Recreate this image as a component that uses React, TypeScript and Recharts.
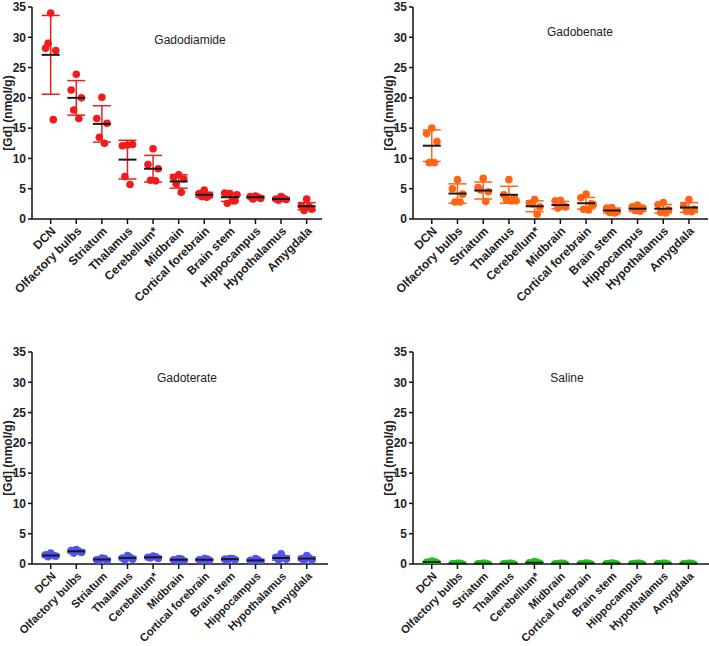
import { ScatterChart, Scatter, XAxis, YAxis, ErrorBar } from 'recharts';

const regions = [
  'DCN', 'Olfactory bulbs', 'Striatum', 'Thalamus', 'Cerebellum*', 'Midbrain',
  'Cortical forebrain', 'Brain stem', 'Hippocampus', 'Hypothalamus', 'Amygdala',
];
const yTicks = [0, 5, 10, 15, 20, 25, 30, 35];

// individual animals per region
const gadodiamidePoints = [
  [34, 28.2, 27.8, 29, 16.4], [23.9, 21.3, 20, 18, 16.6], [20.1, 16.6, 15.8, 13.5, 12.5],
  [12.2, 12.1, 12.3, 7.0, 5.7], [11.6, 9.0, 8.3, 6.4, 6.3], [7.3, 6.9, 6.6, 5.8, 4.4],
  [4.8, 4.2, 3.9, 3.7, 3.6], [4.2, 4.3, 3.0, 2.6, 3.0, 4.0], [3.8, 3.7, 3.4, 3.3, 3.6],
  [3.7, 3.3, 3.2, 3.1, 3.4], [3.3, 2.2, 1.6, 1.4, 2.0],
];
const gadodiamideMean = [27.1, 20, 15.7, 9.8, 8.3, 6.2, 4.0, 3.6, 3.6, 3.3, 2.1];
const gadodiamideSd = [6.5, 2.85, 3.0, 3.2, 2.2, 1.1, 0.4, 0.7, 0.2, 0.2, 0.6];

const gadobenatePoints = [
  [15.0, 14.1, 12.8, 9.3, 9.3], [6.5, 5.0, 4.1, 2.8, 2.8], [6.7, 5.2, 4.5, 4.8, 2.9],
  [6.5, 4.0, 3.5, 3.2, 3.0, 3.0], [3.2, 2.6, 2.0, 2.5, 0.8], [3.1, 3.0, 2.0, 1.8, 2.2],
  [4.1, 3.5, 2.5, 1.6, 1.5, 2.4], [1.9, 1.8, 1.2, 1.1, 1.0], [2.3, 2.0, 1.8, 1.4, 1.3],
  [2.7, 2.4, 1.5, 1.1, 1.0], [3.2, 2.2, 1.6, 1.3, 1.2],
];
const gadobenateMean = [12.1, 4.2, 4.7, 4.0, 2.1, 2.3, 2.6, 1.4, 1.7, 1.7, 1.9];
const gadobenateSd = [2.6, 1.6, 1.4, 1.4, 0.9, 0.6, 0.95, 0.4, 0.4, 0.7, 0.8];

const gadoteratePoints = [
  [1.8, 1.5, 1.3, 1.2, 1.4], [2.4, 2.2, 1.9, 1.8, 2.1], [1.0, 0.7, 0.5, 0.6, 0.9],
  [1.4, 1.0, 0.8, 0.7, 1.1], [1.3, 1.1, 0.9, 1.0, 1.2], [0.9, 0.7, 0.5, 0.6, 0.8],
  [0.9, 0.7, 0.6, 0.5, 0.8], [0.9, 0.8, 0.7, 0.6, 0.9], [0.9, 0.6, 0.3, 0.4, 0.7],
  [1.7, 1.1, 0.8, 0.7, 1.0], [1.4, 0.9, 0.7, 0.6, 1.0],
];
const gadoterateMean = [1.4, 2.1, 0.75, 1.0, 1.1, 0.7, 0.7, 0.8, 0.6, 1.0, 0.9];
const gadoterateSd = [0.25, 0.25, 0.2, 0.25, 0.15, 0.15, 0.15, 0.12, 0.2, 0.35, 0.3];

const salinePoints = [
  [0.5, 0.3, 0.2, 0.3, 0.4], [0.1, 0.05, 0.0, 0.05, 0.1], [0.1, 0.05, 0.0, 0.05, 0.1],
  [0.1, 0.05, 0.0, 0.05, 0.1], [0.4, 0.2, 0.1, 0.2, 0.3], [0.1, 0.05, 0.0, 0.05, 0.1],
  [0.15, 0.05, 0.0, 0.05, 0.1], [0.15, 0.05, 0.0, 0.05, 0.1], [0.1, 0.05, 0.0, 0.05, 0.1],
  [0.1, 0.05, 0.0, 0.05, 0.1], [0.1, 0.05, 0.0, 0.05, 0.1],
];
const salineMean = [0.3, 0.05, 0.05, 0.05, 0.2, 0.05, 0.07, 0.07, 0.05, 0.05, 0.05];
const salineSd = [0.1, 0.04, 0.04, 0.04, 0.1, 0.04, 0.05, 0.05, 0.04, 0.04, 0.04];

const FONT = '"Liberation Sans", Arial, sans-serif';
// horizontal spread of dots inside a column (in category units)
const spread = [0, -0.2, 0.2, -0.1, 0.1, 0.28];

const CategoryTick = ({ x, y, payload, size }: any) => {
  const label = regions[payload.value];
  if (label === undefined) return null;
  const tx = x + 3;
  const ty = y + 3;
  return (
    <text x={tx} y={ty} dy={4} textAnchor="end" transform={`rotate(-45, ${tx}, ${ty})`}
      fontFamily={FONT} fontSize={size} fontWeight="bold" fill="#222">
      {label}
    </text>
  );
};

const MeanLine = ({ cx, cy }: any) => (
  <line x1={cx - 9} x2={cx + 9} y1={cy} y2={cy} stroke="#1a1a1a" strokeWidth={2} />
);

interface PanelProps {
  left: number;
  top: number;
  width: number;
  height: number;
  xMax: number;
  labelSize: number;
  points: number[][];
  means: number[];
  sds: number[];
  color: string;
  title: string;
  titleX: number;
  titleY: number;
}

function Panel({ left, top, width, height, xMax, labelSize, points, means, sds, color, title, titleX, titleY }: PanelProps) {
  const dots = points.flatMap((vals, i) => vals.map((v, j) => ({ x: i + spread[j % spread.length], y: v })));
  const summary = means.map((m, i) => ({ x: i, y: m, err: sds[i] }));

  return (
    <div style={{ position: 'absolute', left, top, width, height }}>
      <ScatterChart width={width} height={height} margin={{ top: 7, right: 0, bottom: 0, left: 0 }}>
        <XAxis
          type="number"
          dataKey="x"
          domain={[-0.73, xMax]}
          ticks={regions.map((_, i) => i)}
          interval={0}
          tick={<CategoryTick size={labelSize} />}
          tickSize={5}
          height={height - 7 - 212}
          axisLine={{ stroke: '#111', strokeWidth: 1.5 }}
          tickLine={{ stroke: '#111', strokeWidth: 1.5 }}
          allowDataOverflow
        />
        <YAxis
          type="number"
          dataKey="y"
          domain={[0, 35]}
          ticks={yTicks}
          interval={0}
          width={32}
          tickSize={4}
          tickMargin={2}
          tick={{ fontFamily: FONT, fontSize: 12, fontWeight: 'bold', fill: '#222' }}
          axisLine={{ stroke: '#111', strokeWidth: 1.5 }}
          tickLine={{ stroke: '#111', strokeWidth: 1.5 }}
          allowDataOverflow
          label={{
            value: '[Gd] (nmol/g)',
            content: ({ viewBox }: any) => {
              const cx = viewBox.x + viewBox.width - 24;
              const cy = viewBox.y + viewBox.height / 2;
              return (
                <text x={cx} y={cy} transform={`rotate(-90, ${cx}, ${cy})`} textAnchor="middle"
                  dominantBaseline="central" fontFamily={FONT} fontSize={12} fontWeight="bold" fill="#222">
                  [Gd] (nmol/g)
                </text>
              );
            },
          }}
        />
        <Scatter data={dots} fill={color} shape={(p: any) => <circle cx={p.cx} cy={p.cy} r={3.8} fill={color} />}
          isAnimationActive={false} />
        <Scatter data={summary} fill="#1a1a1a" shape={<MeanLine />} isAnimationActive={false}>
          <ErrorBar dataKey="err" direction="y" width={9} stroke={color} strokeWidth={1.5} />
        </Scatter>
      </ScatterChart>
      <div style={{
        position: 'absolute', left: titleX - left, top: titleY - top, transform: 'translate(-50%, -50%)',
        fontFamily: FONT, fontSize: 12, color: '#222', whiteSpace: 'nowrap',
      }}>
        {title}
      </div>
    </div>
  );
}

export default function App() {
  return (
    <div style={{ position: 'absolute', left: 0, top: 0, width: 709, height: 646, background: '#fff' }}>
      <Panel left={0} top={0} width={322} height={318} xMax={10.6} labelSize={12} points={gadodiamidePoints}
        means={gadodiamideMean} sds={gadodiamideSd} color="#f01c1c" title="Gadodiamide" titleX={190} titleY={40} />
      <Panel left={381} top={0} width={327} height={318} xMax={10.74} labelSize={12} points={gadobenatePoints}
        means={gadobenateMean} sds={gadobenateSd} color="#ff6414" title="Gadobenate" titleX={580} titleY={32} />
      <Panel left={0} top={345} width={328} height={300} xMax={10.83} labelSize={11.2} points={gadoteratePoints}
        means={gadoterateMean} sds={gadoterateSd} color="#5252f5" title="Gadoterate" titleX={187} titleY={378} />
      <Panel left={381} top={345} width={328} height={300} xMax={10.8} labelSize={11.2} points={salinePoints}
        means={salineMean} sds={salineSd} color="#18c818" title="Saline" titleX={567} titleY={378} />
    </div>
  );
}
